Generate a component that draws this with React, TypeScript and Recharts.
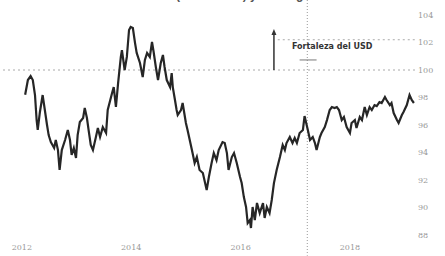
import React from "react";
import { LineChart, Line, XAxis, YAxis, ReferenceLine } from "recharts";

const dates: number[] = [
  2012.06, 2012.11, 2012.16, 2012.2, 2012.24, 2012.27, 2012.29, 2012.33, 2012.38, 2012.42,
  2012.46, 2012.49, 2012.53, 2012.59, 2012.62, 2012.66, 2012.69, 2012.73, 2012.79, 2012.84,
  2012.88, 2012.91, 2012.95, 2012.99, 2013.02, 2013.06, 2013.12, 2013.15, 2013.19, 2013.22,
  2013.26, 2013.3, 2013.35, 2013.39, 2013.43, 2013.48, 2013.54, 2013.57, 2013.65, 2013.68,
  2013.72, 2013.76, 2013.81, 2013.83, 2013.88, 2013.92, 2013.96, 2013.99, 2014.03, 2014.07,
  2014.1, 2014.16, 2014.21, 2014.25, 2014.29, 2014.34, 2014.38, 2014.41, 2014.45, 2014.49,
  2014.54, 2014.58, 2014.61, 2014.65, 2014.71, 2014.74, 2014.76, 2014.8, 2014.83, 2014.85,
  2014.91, 2014.94, 2015.0, 2015.03, 2015.11, 2015.16, 2015.2, 2015.25, 2015.31, 2015.38,
  2015.42, 2015.47, 2015.51, 2015.56, 2015.6, 2015.67, 2015.71, 2015.75, 2015.78, 2015.84,
  2015.88, 2015.93, 2015.99, 2016.02, 2016.06, 2016.1, 2016.13, 2016.17, 2016.19, 2016.22,
  2016.26, 2016.3, 2016.35, 2016.41, 2016.44, 2016.48, 2016.53, 2016.57, 2016.61, 2016.66,
  2016.72, 2016.77, 2016.81, 2016.84, 2016.9, 2016.95, 2016.99, 2017.03, 2017.08, 2017.14,
  2017.17, 2017.23, 2017.27, 2017.32, 2017.36, 2017.39, 2017.45, 2017.48, 2017.54, 2017.58,
  2017.63, 2017.67, 2017.72, 2017.76, 2017.8, 2017.85, 2017.89, 2017.94, 2018.0, 2018.03,
  2018.09, 2018.12, 2018.18, 2018.22, 2018.27, 2018.31, 2018.36, 2018.4, 2018.45, 2018.49,
  2018.54, 2018.58, 2018.64, 2018.67, 2018.73, 2018.76, 2018.8, 2018.86, 2018.89, 2018.95,
  2018.98, 2019.04, 2019.09, 2019.13, 2019.17,
];

const usdIndex: number[] = [
  98.2, 99.27, 99.56, 99.27, 98.18, 96.36, 95.64, 96.95, 98.18, 97.09,
  96.0, 95.27, 94.76, 94.33, 94.91, 94.18, 92.73, 94.18, 94.91, 95.64,
  94.91, 93.82, 94.33, 93.6, 95.27, 96.22, 96.51, 97.24, 96.51, 95.64,
  94.55, 94.18, 95.05, 95.78, 95.13, 95.85, 95.42, 97.09, 98.33, 98.76,
  97.31, 99.05, 100.95, 101.45, 100.0, 100.95, 102.91, 103.13, 103.05, 101.96,
  101.24, 100.51, 99.49, 100.73, 101.24, 100.95, 102.04, 101.31, 100.22, 99.27,
  100.51, 101.09, 100.22, 99.27, 98.76, 99.78, 98.76, 97.82, 97.09, 96.73,
  97.09, 97.6, 96.15, 95.64, 94.18, 93.24, 93.67, 92.73, 92.51, 91.27,
  92.22, 93.24, 93.96, 93.45, 94.18, 94.76, 94.69, 93.96, 92.73, 93.67,
  93.96, 93.24, 92.22, 91.78, 90.76, 90.04, 88.87, 89.09, 88.51, 90.04,
  89.09, 90.33, 89.6, 90.33, 89.24, 90.04, 89.6, 90.55, 91.78, 92.73,
  93.67, 94.55, 94.18, 94.69, 95.13, 94.69, 95.05, 94.69, 95.42, 95.64,
  96.65, 95.64, 94.91, 95.13, 94.69, 94.18, 95.13, 95.42, 95.85, 96.36,
  97.09, 97.31, 97.24, 97.31, 97.09, 96.36, 96.58, 95.85, 95.42, 96.15,
  96.36, 95.78, 96.58, 96.36, 97.31, 96.73, 97.31, 97.09, 97.45, 97.38,
  97.67, 97.6, 98.04, 97.82, 97.45, 97.6, 96.87, 96.36, 96.15, 96.73,
  96.95, 97.45, 98.18, 97.82, 97.6,
];

const xTicks: number[] = [2012, 2014, 2016, 2018];
const yTicks: number[] = [88, 90, 92, 94, 96, 98, 100, 102, 104];

const title = "(Índice DXY) y su rango";
const annotation = "Fortaleza del USD";
const parityLevel = 100;
const upperLevel = 102.2;
const markerDate = 2017.22;
const arrowDate = 2016.61;
const arrowTop = 102.91;

const data = dates.map((t, i) => ({ t, v: usdIndex[i] }));

const ArrowShape = (p: any) => {
  const { x1, y1, x2, y2 } = p;
  const top = Math.min(y1, y2);
  const bottom = Math.max(y1, y2);
  return (
    <g>
      <line x1={x1} y1={bottom} x2={x1} y2={top + 3} stroke="#333" strokeWidth={1.5} />
      <path d={`M${x1 - 2.5},${top + 5} L${x1},${top - 1} L${x1 + 2.5},${top + 5} Z`} fill="#333" />
      <text x={x1 + 18} y={top + 19} fontSize={8} fontWeight="bold" fill="#333" fontFamily="DejaVu Sans, sans-serif">
        {annotation}
      </text>
    </g>
  );
};

export default function App() {
  return (
    <div style={{ position: "absolute", left: 0, top: 0, width: 445, height: 256, background: "#fff", overflow: "hidden" }}>
      <svg width={445} height={256} style={{ position: "absolute", left: 0, top: 0, pointerEvents: "none" }}>
        <text x={176} y={-1} fontFamily="Liberation Sans, Arial, sans-serif" fontSize={12} fontWeight="bold" fill="#555">
          {title}
        </text>
      </svg>
      <LineChart width={445} height={256} data={data} margin={{ top: 0, right: 0, bottom: 0, left: 0 }} style={{ position: "absolute", left: 0, top: 0 }}>
        <XAxis
          dataKey="t"
          type="number"
          domain={[2011.6, 2019.19]}
          ticks={xTicks}
          allowDataOverflow
          axisLine={false}
          tickLine={false}
          tickSize={4}
          tickMargin={0}
          height={16}
          tick={{ fontSize: 8, fill: "#999", fontFamily: "DejaVu Serif, serif" }}
        />
        <YAxis
          orientation="right"
          type="number"
          domain={[87.64, 105.09]}
          ticks={yTicks}
          allowDataOverflow
          axisLine={false}
          tickLine={false}
          tickSize={3}
          tickMargin={0}
          width={30}
          tick={{ fontSize: 8, fill: "#999", fontFamily: "DejaVu Serif, serif" }}
        />
        <ReferenceLine y={parityLevel} stroke="#aaa" strokeDasharray="2 3" strokeWidth={1} />
        <ReferenceLine
          segment={[{ x: 2016.68, y: upperLevel }, { x: 2019.19, y: upperLevel }]}
          stroke="#aaa"
          strokeDasharray="2 3"
          strokeWidth={1}
        />
        <ReferenceLine
          segment={[{ x: markerDate, y: 105.09 }, { x: markerDate, y: 86.5 }]}
          ifOverflow="visible"
          stroke="#999"
          strokeDasharray="1 2"
          strokeWidth={1}
        />
        <ReferenceLine
          segment={[{ x: 2017.08, y: 100.73 }, { x: 2017.39, y: 100.73 }]}
          stroke="#777"
          strokeWidth={1}
        />
        <ReferenceLine
          segment={[{ x: arrowDate, y: parityLevel }, { x: arrowDate, y: arrowTop }]}
          shape={ArrowShape}
        />
        <Line
          type="linear"
          dataKey="v"
          stroke="#262626"
          strokeWidth={2.2}
          dot={false}
          activeDot={false}
          isAnimationActive={false}
        />
      </LineChart>
    </div>
  );
}
